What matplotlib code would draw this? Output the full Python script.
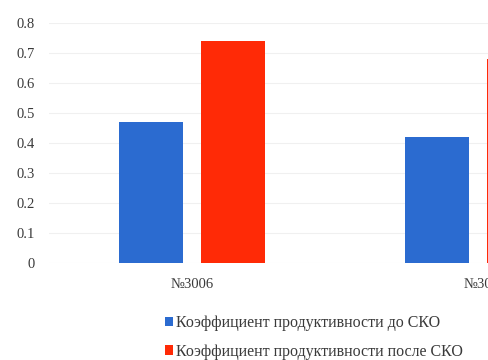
import matplotlib
matplotlib.use("Agg")
import matplotlib.pyplot as plt
import numpy as np

categories = ["№3006", "№30"]
before = [0.47, 0.42]
after = [0.74, 0.68]
series_labels = ["Коэффициент продуктивности до СКО",
                 "Коэффициент продуктивности после СКО"]
yticks = [0, 0.1, 0.2, 0.3, 0.4, 0.5, 0.6, 0.7, 0.8]
ytick_labels = ["0", "0.1", "0.2", "0.3", "0.4", "0.5", "0.6", "0.7", "0.8"]

blue = "#2B6BD0"
red = "#FF2A06"

plt.rcParams["font.family"] = "serif"
plt.rcParams["font.serif"] = ["Liberation Serif", "DejaVu Serif"]

W, H = 489, 360
fig = plt.figure(figsize=(W / 100, H / 100), dpi=100)
# plot area extends past the right edge of the canvas
ax = fig.add_axes([49 / W, 97 / H, 572 / W, 240 / H])

x = np.arange(len(categories))
width = 0.223
off = 0.143
b1 = ax.bar(x - off, before, width, color=blue, label=series_labels[0], zorder=3)
b2 = ax.bar(x + off, after, width, color=red, label=series_labels[1], zorder=3)

ax.set_xlim(-0.5, 1.5)
ax.set_ylim(0, 0.8)
ax.set_yticks(yticks)
ax.set_yticklabels(ytick_labels)
ax.set_xticks(x)
ax.set_xticklabels(categories)
ax.grid(axis="y", color="#F0F0F0", linewidth=0.8, zorder=0)
for s in ax.spines.values():
    s.set_visible(False)
ax.tick_params(axis="y", length=0, labelsize=10.5, colors="#3A3A3A", pad=10)
ax.tick_params(axis="x", length=0, labelsize=10.5, colors="#3A3A3A", pad=11)

fig.legend(handles=[b1, b2], labels=series_labels, loc="upper left",
           bbox_to_anchor=(165 / W, 1 - 315 / H), frameon=False,
           fontsize=11.5, handlelength=0.5, handleheight=0.55,
           handletextpad=0.2, labelspacing=0.8, borderaxespad=0,
           borderpad=0, labelcolor="#3A3A3A")

fig.savefig("out.png", dpi=100)
